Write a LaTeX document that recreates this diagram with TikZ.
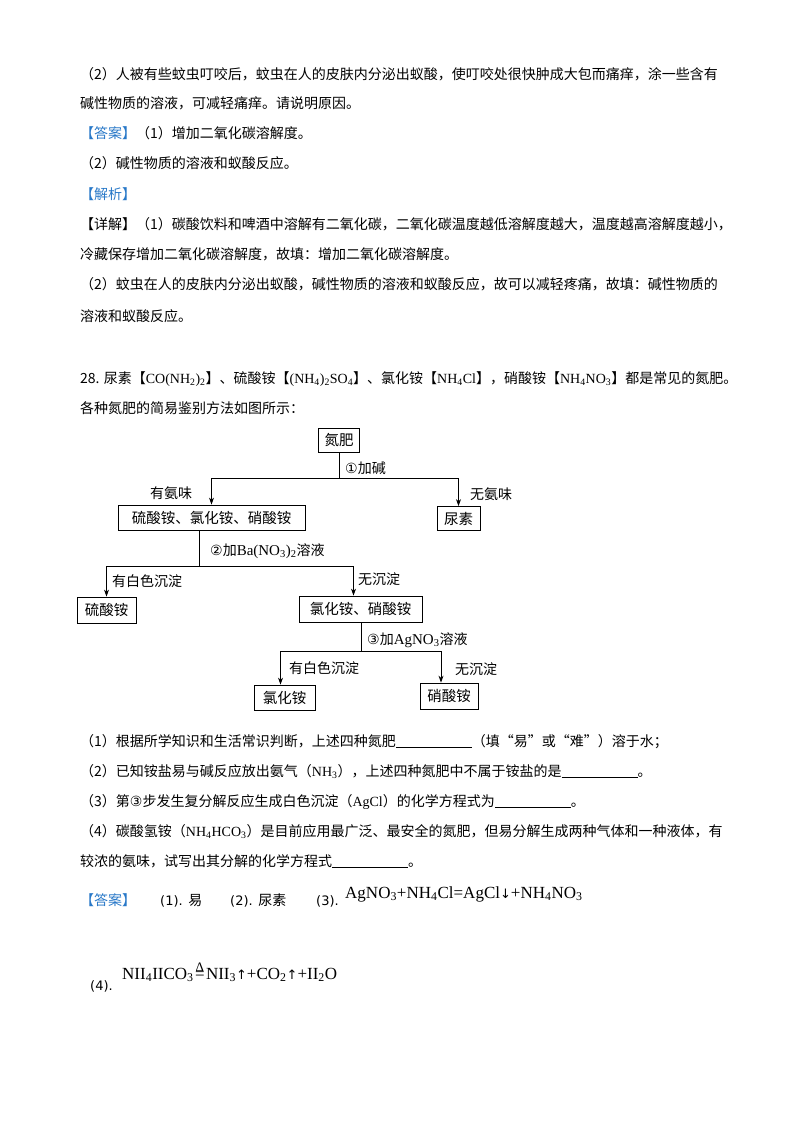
\documentclass[tikz,border=0pt]{standalone}
\usepackage{fontspec}
\setmainfont{Noto Sans CJK SC}
\newfontfamily\tms{Liberation Serif}
\newfontfamily\dv{DejaVu Sans}
\usetikzlibrary{arrows.meta}
\definecolor{ansblue}{RGB}{40,120,200}
\begin{document}
\begin{tikzpicture}[x=1pt,y=-1pt,
 ln/.style={anchor=base west,inner sep=0pt,font=\fontsize{14}{14}\selectfont},
 bx/.style={draw,line width=0.8pt,inner sep=0pt,minimum height=24pt,font=\fontsize{14.5}{14.5}\selectfont},
 lb/.style={inner sep=0pt,font=\fontsize{14}{14}\selectfont},
 ar/.style={-{Stealth[length=7pt,width=5pt]},line width=0.9pt},
 cn/.style={line width=0.9pt}]
\useasboundingbox (0,0) rectangle (800,1132);
\fill[white] (0,0) rectangle (800,1132);
\node[ln] (l1) at (80,79) {（2）人被有些蚊虫叮咬后，蚊虫在人的皮肤内分泌出蚁酸，使叮咬处很快肿成大包而痛痒，涂一些含有};
\node[ln] (l2) at (80,108) {碱性物质的溶液，可减轻痛痒。请说明原因。};
\node[ln] (l3) at (80,138) {\textcolor{ansblue}{【答案】}（1）增加二氧化碳溶解度。};
\node[ln] (l4) at (80,168) {（2）碱性物质的溶液和蚁酸反应。};
\node[ln] (l5) at (80,199) {\textcolor{ansblue}{【解析】}};
\node[ln] (l6) at (80,229) {【详解】（1）碳酸饮料和啤酒中溶解有二氧化碳，二氧化碳温度越低溶解度越大，温度越高溶解度越小，};
\node[ln] (l7) at (80,259) {冷藏保存增加二氧化碳溶解度，故填：增加二氧化碳溶解度。};
\node[ln] (l8) at (80,289) {（2）蚊虫在人的皮肤内分泌出蚁酸，碱性物质的溶液和蚁酸反应，故可以减轻疼痛，故填：碱性物质的};
\node[ln] (l9) at (80,321) {溶液和蚁酸反应。};
\node[ln] (q0) at (80,383) {28. 尿素【{\tms CO(NH\textsubscript{2})\textsubscript{2}}】、硫酸铵【{\tms (NH\textsubscript{4})\textsubscript{2}SO\textsubscript{4}}】、氯化铵【{\tms NH\textsubscript{4}Cl}】，硝酸铵【{\tms NH\textsubscript{4}NO\textsubscript{3}}】都是常见的氮肥。};
\node[ln] (q1) at (80,413) {各种氮肥的简易鉴别方法如图所示：};
% flowchart
\node[bx,minimum width=41pt] (n0) at (339,440.5) {氮肥};
\node[bx,minimum width=187pt,minimum height=25pt] (n1) at (211.5,517.5) {硫酸铵、氯化铵、硝酸铵};
\node[bx,minimum width=43pt] (n2) at (458.5,518.5) {尿素};
\node[bx,minimum width=59pt,minimum height=26pt] (n3) at (106.5,610) {硫酸铵};
\node[bx,minimum width=123pt,minimum height=26pt] (n4) at (360.5,609) {氯化铵、硝酸铵};
\node[bx,minimum width=61pt,minimum height=25pt] (n5) at (284.5,697.5) {氯化铵};
\node[bx,minimum width=58pt,minimum height=26pt] (n6) at (449,696) {硝酸铵};
\coordinate (j1) at (339,478);
\coordinate (j2) at (199,566);
\coordinate (j3) at (361,651);
\draw[cn] (n0.south) -- (j1);
\draw[ar] (j1) -| (n1.north);
\draw[ar] (j1) -| (n2.north);
\draw[cn] (n1.south -| j2) -- (j2);
\draw[ar] (j2) -| (n3.north);
\draw[ar] (j2) -| ([xshift=-7pt]n4.north);
\draw[cn] (n4.south -| j3) -- (j3);
\draw[ar] (j3) -| ([xshift=-4pt]n5.north);
\draw[ar] (j3) -| ([xshift=-8pt]n6.north);
\node[lb,anchor=west] (t1) at (345,468) {{\dv ①}加碱};
\node[lb,anchor=west] (t2) at (150,493) {有氨味};
\node[lb,anchor=west] (t3) at (470,494) {无氨味};
\node[lb,anchor=west] (t4) at (210,551) {{\dv ②}加{\tms\fontsize{15}{15}\selectfont Ba(NO\textsubscript{3})\textsubscript{2}}溶液};
\node[lb,anchor=west] (t5) at (112,581) {有白色沉淀};
\node[lb,anchor=west] (t6) at (358,579) {无沉淀};
\node[lb,anchor=west] (t7) at (367,640) {{\dv ③}加{\tms\fontsize{15}{15}\selectfont AgNO\textsubscript{3}}溶液};
\node[lb,anchor=west] (t8) at (289,668) {有白色沉淀};
\node[lb,anchor=west] (t9) at (455,669) {无沉淀};
% questions
\node[ln] (m1) at (80,746) {（1）根据所学知识和生活常识判断，上述四种氮肥\underline{\hspace{76pt}}（填“易”或“难”）溶于水；};
\node[ln] (m2) at (80,776) {（2）已知铵盐易与碱反应放出氨气（{\tms NH\textsubscript{3}}），上述四种氮肥中不属于铵盐的是\underline{\hspace{76pt}}。};
\node[ln] (m3) at (80,806) {（3）第{\dv ③}步发生复分解反应生成白色沉淀（{\tms AgCl}）的化学方程式为\underline{\hspace{76pt}}。};
\node[ln] (m4) at (80,836) {（4）碳酸氢铵（{\tms NH\textsubscript{4}HCO\textsubscript{3}}）是目前应用最广泛、最安全的氮肥，但易分解生成两种气体和一种液体，有};
\node[ln] (m5) at (80,866) {较浓的氨味，试写出其分解的化学方程式\underline{\hspace{76pt}}。};
\node[ln] (a0) at (80,905) {\textcolor{ansblue}{【答案】}};
\node[anchor=base west,inner sep=0pt,font=\dv\fontsize{13}{13}\selectfont] (a1) at (160,905) {(1). {\fontsize{14}{14}\selectfont\rmfamily 易}};
\node[anchor=base west,inner sep=0pt,font=\dv\fontsize{13}{13}\selectfont] (a2) at (230,905) {(2). {\fontsize{14}{14}\selectfont\rmfamily 尿素}};
\node[anchor=base west,inner sep=0pt,font=\dv\fontsize{13}{13}\selectfont] (a3) at (316,905) {(3).};
\node[anchor=base west,inner sep=0pt,font=\tms\fontsize{17}{17}\selectfont] (e3) at (345,898) {AgNO\textsubscript{3}+NH\textsubscript{4}Cl=AgCl{\dv\fontsize{13}{13}\selectfont↓}+NH\textsubscript{4}NO\textsubscript{3}};
\node[anchor=base west,inner sep=0pt,font=\dv\fontsize{13}{13}\selectfont] (a4) at (90,990) {(4).};
\node[anchor=base west,inner sep=0pt,font=\tms\fontsize{17}{17}\selectfont] (e4) at (122,979) {NII\textsubscript{4}IICO\textsubscript{3}};
\node[anchor=base west,inner sep=0pt,font=\tms\fontsize{17}{17}\selectfont] (eq) at ([xshift=1pt]e4.base east) {=};
\node[anchor=south,inner sep=0pt,font=\tms\fontsize{13}{13}\selectfont] (dl) at ([yshift=-1pt]eq.north) {Δ};
\node[anchor=base west,inner sep=0pt,font=\tms\fontsize{17}{17}\selectfont] (e5) at ([xshift=1pt]eq.base east) {NII\textsubscript{3}{\dv\fontsize{13}{13}\selectfont↑}+CO\textsubscript{2}{\dv\fontsize{13}{13}\selectfont↑}+II\textsubscript{2}O};
\end{tikzpicture}
\end{document}
